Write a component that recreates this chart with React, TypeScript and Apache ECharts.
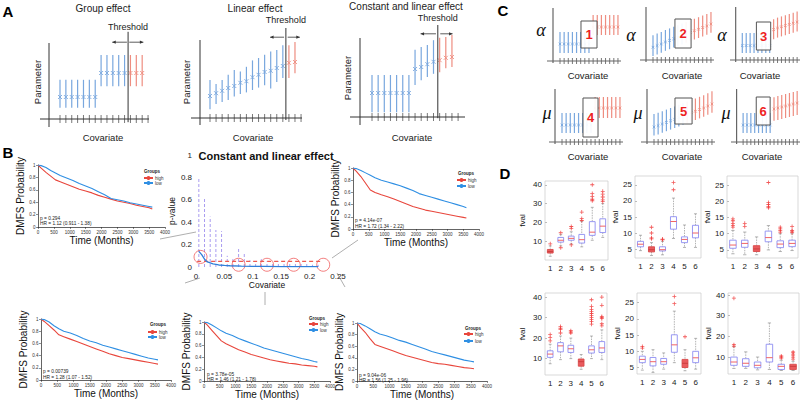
import React, { useEffect, useRef } from 'react';
import * as echarts from 'echarts';

const FONT = '"Liberation Sans", Arial, Helvetica, sans-serif';
const SERIF = '"Liberation Serif", "DejaVu Serif", serif';
const SBLUE = '#79a7de';
const SRED = '#ee8d80';
const KRED = '#e8463c';
const KBLUE = '#2f8fe3';
const INK = '#222222';

// ---------------- Panel A : schematic parameter estimates (arbitrary units) ----------------
const A1_CENTER = [2.75, 2.75, 2.75, 2.75, 2.75, 2.75, 2.75, 5.75, 5.75, 5.75, 5.75, 5.75, 5.75, 5.75, 5.75];
const A1_LOW = [1.4, 1.4, 1.4, 1.4, 1.4, 1.4, 1.4, 4.1, 4.1, 4.1, 4.1, 4.1, 4.1, 4.1, 4.1];
const A1_HIGH = [4.9, 4.9, 4.9, 4.9, 4.9, 4.9, 4.9, 8, 8, 8, 8, 8, 8, 8, 8];
const A1_BLUE_COUNT = 12;

const A2_CENTER = [2.75, 3.1, 3.4, 3.75, 4.0, 4.4, 4.6, 5.1, 5.4, 5.75, 5.9, 6.25, 6.5, 6.9, 7.0];
const A2_LOW = [1.1, 1.75, 2.0, 2.25, 2.7, 3.0, 3.2, 3.5, 3.8, 4.1, 3.7, 4.5, 5.0, 5.0, 5.6];
const A2_HIGH = [4.75, 4.25, 4.75, 5.4, 6.0, 5.8, 6.4, 7.2, 7.5, 7.9, 8.3, 8.5, 9.1, 9.1, 9.5];
const A2_BLUE_COUNT = 13;

const A3_CENTER = [3, 3, 3, 3, 3, 3, 3, 6.0, 6.25, 6.6, 6.9, 7.1, 7.4, 7.5];
const A3_LOW = [0.6, 0.6, 0.6, 0.6, 0.6, 0.6, 0.6, 4.0, 4.6, 5.0, 5.4, 5.6, 6.1, 6.25];
const A3_HIGH = [5.25, 5.25, 5.25, 5.25, 5.25, 5.25, 5.25, 8.4, 8.75, 9.0, 9.6, 9.9, 10.0, 10.25];
const A3_BLUE_COUNT = 11;

const A_TITLES = ['Group effect', 'Linear effect', 'Constant and linear effect'];

// ---------------- Panel C : schematic parameter estimates ----------------
const C1_CENTER = [4.25, 4.25, 4.25, 4.25, 4.25, 4.25, 4.25, 4.25, 8.5, 8.5, 8.5, 8.5, 8.5, 8.5, 8.5];
const C1_LOW = [2, 2, 2, 2, 2, 2, 2, 2, 6.5, 6.5, 6.5, 6.5, 6.5, 6.5, 6.5];
const C1_HIGH = [7.25, 7.25, 7.25, 7.25, 7.25, 7.25, 7.25, 7.25, 11.5, 11.5, 11.5, 11.5, 11.5, 11.5, 11.5];
const C2_CENTER = [3.2, 3.6, 4.0, 4.5, 4.9, 5.3, 5.7, 6.1, 6.5, 6.9, 7.3, 7.7, 8.1, 8.5, 9.0];
const C2_LOW = [1.0, 1.4, 1.8, 2.3, 2.7, 3.1, 3.5, 3.9, 4.3, 4.7, 5.1, 5.5, 5.9, 6.3, 6.8];
const C2_HIGH = [6.2, 6.6, 7.0, 7.5, 7.9, 8.3, 8.7, 9.1, 9.5, 9.9, 10.3, 10.7, 11.1, 11.5, 12.0];
const C3_CENTER = [3.6, 3.6, 3.6, 3.6, 3.6, 3.6, 3.6, 3.6, 7.6, 8.0, 8.3, 8.6, 8.9, 9.2, 9.5];
const C3_LOW = [1.75, 1.75, 1.75, 1.75, 1.75, 1.75, 1.75, 1.75, 5.2, 5.6, 5.9, 6.2, 6.5, 6.8, 7.1];
const C3_HIGH = [6.75, 6.75, 6.75, 6.75, 6.75, 6.75, 6.75, 6.75, 10.2, 10.6, 10.9, 11.2, 11.5, 11.8, 12.1];
const C4_CENTER = [4.25, 4.25, 4.25, 4.25, 4.25, 4.25, 4.25, 4.25, 8.5, 8.5, 8.5, 8.5, 8.5, 8.5, 8.5];
const C4_LOW = [2.25, 2.25, 2.25, 2.25, 2.25, 2.25, 2.25, 2.25, 6, 6, 6, 6, 6, 6, 6];
const C4_HIGH = [7.25, 7.25, 7.25, 7.25, 7.25, 7.25, 7.25, 7.25, 11.25, 11.25, 11.25, 11.25, 11.25, 11.25, 11.25];
const C5_CENTER = [3.75, 4.1, 4.5, 4.9, 5.3, 5.7, 6.1, 6.5, 6.9, 7.3, 7.7, 8.1, 8.5, 9.0, 9.5];
const C5_LOW = [1.6, 1.9, 2.3, 2.7, 3.1, 3.5, 3.9, 4.3, 4.7, 5.1, 5.5, 5.9, 6.3, 6.8, 7.3];
const C5_HIGH = [7.0, 7.3, 7.7, 8.1, 8.5, 8.9, 9.3, 9.7, 10.1, 10.5, 10.9, 11.3, 11.7, 12.2, 12.7];
const C6_CENTER = [4.25, 4.25, 4.25, 4.25, 4.25, 4.25, 4.25, 4.25, 8.25, 8.5, 8.75, 9.0, 9.25, 9.5, 9.75];
const C6_LOW = [2.25, 2.25, 2.25, 2.25, 2.25, 2.25, 2.25, 2.25, 5.3, 5.5, 5.75, 6.0, 6.25, 6.5, 6.75];
const C6_HIGH = [7.25, 7.25, 7.25, 7.25, 7.25, 7.25, 7.25, 7.25, 11.2, 11.5, 11.75, 12.0, 12.25, 12.5, 12.75];
const C_BLUE_COUNT = 8;
const C_BOX_LABELS = ['1', '2', '3', '4', '5', '6'];
const C_SYMBOLS = ['α', 'α', 'α', 'μ', 'μ', 'μ'];

// ---------------- Panel B : Kaplan-Meier curves ----------------
const KM_TIME = [0, 100, 250, 400, 550, 700, 900, 1100, 1300, 1500, 1700, 1900, 2100, 2300, 2500, 2700, 2900, 3100, 3300, 3500, 3600];
const B1_HIGH = [1, 0.95, 0.88, 0.82, 0.76, 0.73, 0.69, 0.65, 0.61, 0.58, 0.55, 0.51, 0.48, 0.45, 0.42, 0.4, 0.38, 0.35, 0.33, 0.31, 0.29];
const B1_LOW = [1, 0.99, 0.96, 0.91, 0.87, 0.83, 0.79, 0.75, 0.7, 0.66, 0.62, 0.57, 0.52, 0.46, 0.44, 0.42, 0.39, 0.37, 0.35, 0.33, 0.32];
const B2_HIGH = [1, 0.95, 0.86, 0.75, 0.64, 0.6, 0.56, 0.53, 0.49, 0.45, 0.41, 0.37, 0.34, 0.31, 0.29, 0.27, 0.25, 0.23, 0.21, 0.19, 0.18];
const B2_LOW = [1, 0.99, 0.96, 0.92, 0.88, 0.84, 0.8, 0.77, 0.74, 0.71, 0.67, 0.63, 0.58, 0.55, 0.52, 0.49, 0.46, 0.43, 0.4, 0.37, 0.35];
const B4_HIGH = [1, 0.96, 0.89, 0.82, 0.74, 0.71, 0.67, 0.63, 0.59, 0.55, 0.51, 0.47, 0.43, 0.4, 0.37, 0.35, 0.33, 0.31, 0.29, 0.27, 0.26];
const B4_LOW = [1, 0.99, 0.95, 0.89, 0.84, 0.8, 0.77, 0.73, 0.68, 0.64, 0.61, 0.57, 0.54, 0.51, 0.48, 0.45, 0.42, 0.39, 0.36, 0.34, 0.33];
const B5_HIGH = [1, 0.95, 0.86, 0.77, 0.68, 0.63, 0.58, 0.53, 0.49, 0.45, 0.42, 0.39, 0.36, 0.34, 0.32, 0.3, 0.29, 0.27, 0.26, 0.25, 0.24];
const B5_LOW = [1, 0.99, 0.95, 0.9, 0.85, 0.81, 0.77, 0.72, 0.68, 0.64, 0.6, 0.56, 0.53, 0.5, 0.47, 0.44, 0.41, 0.38, 0.36, 0.33, 0.32];
const B6_HIGH = [1, 0.93, 0.84, 0.73, 0.63, 0.6, 0.56, 0.52, 0.48, 0.44, 0.41, 0.38, 0.35, 0.32, 0.3, 0.29, 0.27, 0.25, 0.23, 0.22, 0.21];
const B6_LOW = [1, 0.99, 0.95, 0.9, 0.85, 0.81, 0.78, 0.74, 0.7, 0.67, 0.63, 0.59, 0.55, 0.51, 0.48, 0.45, 0.42, 0.39, 0.36, 0.34, 0.33];
const B_PVALUES = ['p = 0.294', 'p = 4.14e-07', 'p = 0.00739', 'p = 3.78e-05', 'p = 9.04e-06'];
const B_HR = ['HR = 1.12 (0.911 - 1.38)', 'HR = 1.72 (1.34 - 2.22)', 'HR = 1.28 (1.07 - 1.52)', 'HR = 1.46 (1.21 - 1.78)', 'HR = 1.56 (1.25 - 1.96)'];
const KM_GROUPS = ['high', 'low'];

// p-value vs covariate
const PV_BAR_X = [0.005, 0.015, 0.025, 0.035, 0.045, 0.055, 0.065, 0.075, 0.085, 0.095, 0.105, 0.115, 0.125, 0.135, 0.145, 0.155, 0.165, 0.175, 0.185, 0.195, 0.205, 0.215];
const PV_BAR_H = [0.8, 0.62, 0.45, 0.33, 0.32, 0.1, 0.08, 0.17, 0.12, 0.06, 0.05, 0.07, 0.05, 0.04, 0.05, 0.04, 0.03, 0.04, 0.03, 0.03, 0.02, 0.02];
const PV_LINE_X = [0.005, 0.01, 0.015, 0.02, 0.03, 0.04, 0.05, 0.06, 0.08, 0.1, 0.12, 0.15, 0.18, 0.215];
const PV_LINE_Y = [0.14, 0.11, 0.07, 0.045, 0.028, 0.018, 0.014, 0.011, 0.008, 0.006, 0.005, 0.004, 0.003, 0.003];
const PV_CUTOFF = 0.05;
const PV_CUTOFF_X = [0.002, 0.222];
const PV_CIRCLE_X = [0.008, 0.075, 0.125, 0.172, 0.224];
const PV_CIRCLE_Y = [0.09, 0.02, 0.02, 0.02, 0.02];
const PV_Y_TICKS = [0, 0.2, 0.4, 0.6, 0.8, 1];
const PV_X_TICKS = [0, 0.05, 0.1, 0.15, 0.2, 0.25];

// ---------------- Panel D : box plots of fval ----------------
const D_CATS = ['1', '2', '3', '4', '5', '6'];
const D_TICKS_40 = [10, 20, 30, 40];
const D_TICKS_25 = [5, 10, 15, 20, 25];
// [low whisker, q1, median, q3, high whisker]
const D1_BOX = [[2, 3.7, 4.5, 5.6, 7.5], [7.5, 9.5, 10.5, 12, 13.5], [8.5, 10.5, 11.5, 12.7, 15], [7, 9, 10.8, 13.6, 20.5], [10.5, 13.1, 14.8, 20.4, 28], [12, 14.6, 18, 21.9, 30]];
const D1_OUT = [[8.6], [14.5, 6.5], [17.8, 16.8, 8], [25.5, 22, 21], [40, 35.3, 33.8, 32.3, 31.5], [36.5, 35, 33.5, 32, 31]];
const D2_BOX = [[4.5, 5.7, 6.5, 7.4, 9.3], [3, 4.1, 4.8, 5.7, 7], [3.2, 4.4, 4.8, 5.7, 7.4], [8.3, 11.2, 13.6, 15.1, 20.9], [5.5, 7, 8, 8.8, 12.5], [5.5, 8.5, 10, 12.4, 16]];
const D2_OUT = [[], [11.8, 10, 8.5, 8.2], [8.1, 7.9], [25.8, 23.5], [], []];
const D3_BOX = [[3.8, 5.5, 6.5, 8, 11], [3.5, 5.8, 7, 8, 10.5], [3.5, 4.5, 5.3, 6.3, 9], [5, 7.5, 8.8, 10.8, 12.5], [4.5, 5.7, 6.8, 7.8, 10], [4.8, 6, 7, 8, 10]];
const D3_OUT = [[14.6, 14, 13.2, 12.5, 12], [13.2, 12.2], [], [25.8, 19.6, 19, 18.4, 18], [12, 11.5, 11, 10.5], [12.2, 11, 10.8, 10.3]];
const D4_BOX = [[7.5, 10.6, 12.2, 13.8, 17], [9.5, 13.3, 16.2, 17.8, 21], [10, 13, 14.8, 16.5, 20], [4.8, 6.3, 8.5, 9.8, 12], [10, 12.7, 14.3, 16.2, 21], [9.5, 13, 15.2, 18.3, 24]];
const D4_OUT = [[21.7, 20.2, 18.6], [25.7, 24.8, 24.1, 22.5], [23.6, 23, 22.5], [], [38.7, 35.5, 34, 33, 32, 31, 30, 29, 28, 26.8], [40, 36, 30.5, 30, 29.5, 27, 26]];
const D5_BOX = [[4.2, 6.5, 7.5, 8.5, 10], [3.5, 5.5, 6.8, 8.1, 10.5], [4.5, 6, 6.8, 7.8, 9.5], [6.5, 9.7, 12, 15.1, 22.4], [4, 5, 6.3, 7.5, 10.5], [4.5, 6.5, 8, 10, 14]];
const D5_OUT = [[11.5, 11], [], [], [26.9, 24.7], [14.5], []];
const D6_BOX = [[4.5, 6, 7.6, 10, 15], [4.5, 5.5, 7, 9.2, 12.5], [3.8, 4.8, 6, 7.6, 10], [4, 7.6, 9.7, 16.2, 26.5], [3.5, 4, 5.5, 6.5, 8.5], [3.5, 4, 5.5, 6.5, 8]];
const D6_OUT = [[38.5, 16, 15.3], [], [], [], [10.5, 10, 9.5], [12.5, 12, 11, 10, 9]];

// ---------------- layout (pixels) ----------------
const A_LAYOUT = [
  { axX: 49, axY: 119, left: 40, right: 149, top: 43, bottom: 127, first: 60, step: 5.87, unit: 8, ticks: 16, tick: 4, lw: 1, s: 2 },
  { axX: 200, axY: 118, left: 191, right: 302, top: 40, bottom: 125, first: 210, step: 6.07, unit: 8, ticks: 16, tick: 4, lw: 1, s: 2 },
  { axX: 360, axY: 117, left: 350, right: 465, top: 38, bottom: 125, first: 372, step: 6.15, unit: 8, ticks: 15, tick: 4, lw: 1, s: 2 },
];
const A_THR = [
  { x: 12.6, y0: -0.4, y1: 10.9, ay: 9.6, l: [12.4, 9.9], r: [12.8, 15.2], ly: 11.5 },
  { x: 13.5, y0: -0.25, y1: 11.25, ay: 10.1, l: [13.2, 10.9], r: [13.8, 15.8], ly: 12.25 },
  { x: 11.7, y0: -0.15, y1: 11.5, ay: 10.4, l: [11.4, 8.9], r: [12.1, 14.1], ly: 12.4 },
];
const C_AXES = [[553, 61], [646, 60], [736, 60], [555, 142], [647, 142], [737, 142]];
const C_BOXES = [[6.07, 9.94, 3.25, 10], [6.3, 10.2, 3, 10.25], [4.6, 8.25, 2.5, 9.5], [6.07, 9.7, 1.25, 11], [6.07, 10.2, 4.5, 11], [4.4, 8, 4.25, 11.25]];

const plain = (v: number) => String(v);

function App() {
  const ref = useRef<HTMLDivElement>(null);
  useEffect(() => {
    if (!ref.current) return;
    const chart = echarts.init(ref.current, undefined, { renderer: 'svg' });
    const grid: any[] = [];
    const xAxis: any[] = [];
    const yAxis: any[] = [];
    const series: any[] = [];
    const legend: any[] = [];
    const graphic: any[] = [];

    const txt = (text: string, x: number, y: number, size: number, extra: any = {}) => {
      const { rotation, ...style } = extra;
      graphic.push({
        type: 'text', x, y, rotation: rotation || 0, silent: true,
        style: { text, fontSize: size, fontFamily: FONT, fill: INK, align: 'center', verticalAlign: 'middle', ...style },
      });
    };
    const seg = (x1: number, y1: number, x2: number, y2: number) => {
      graphic.push({ type: 'line', silent: true, shape: { x1, y1, x2, y2 }, style: { stroke: '#9a9a9a', lineWidth: 0.8 } });
    };

    // ---- schematic helper ----
    const addSchematic = (L: any, center: number[], low: number[], high: number[], nBlue: number, thr: any, box: any, boxLabel: string | null, axisColor: string) => {
      const gi = grid.length;
      const xMin = 1 - (L.first - L.left) / L.step;
      const xMax = 1 + (L.right - L.first) / L.step;
      const vX = 1 - (L.first - L.axX) / L.step;
      const yMin = -(L.bottom - L.axY) / L.unit;
      const yMax = (L.axY - L.top) / L.unit;
      grid.push({ left: L.left, top: L.top, width: L.right - L.left, height: L.bottom - L.top });
      xAxis.push({ type: 'value', gridIndex: gi, min: xMin, max: xMax, show: false });
      yAxis.push({ type: 'value', gridIndex: gi, min: yMin, max: yMax, show: false });
      const s = L.s;
      series.push({
        type: 'custom', xAxisIndex: gi, yAxisIndex: gi, silent: true,
        data: center.map((c, i) => [i + 1, c, low[i], high[i], i >= nBlue ? 1 : 0]),
        renderItem: (_p: any, api: any) => {
          const x = api.value(0);
          const a = api.coord([x, api.value(2)]);
          const b = api.coord([x, api.value(3)]);
          const m = api.coord([x, api.value(1)]);
          const col = api.value(4) ? SRED : SBLUE;
          return {
            type: 'group', children: [
              { type: 'line', shape: { x1: a[0], y1: a[1], x2: b[0], y2: b[1] }, style: { stroke: col, lineWidth: 1.2 } },
              { type: 'line', shape: { x1: m[0] - s, y1: m[1] - s, x2: m[0] + s, y2: m[1] + s }, style: { stroke: col, lineWidth: 0.9 } },
              { type: 'line', shape: { x1: m[0] - s, y1: m[1] + s, x2: m[0] + s, y2: m[1] - s }, style: { stroke: col, lineWidth: 0.9 } },
            ],
          };
        },
      });
      series.push({
        type: 'custom', xAxisIndex: gi, yAxisIndex: gi, silent: true, data: [[0, 0]],
        renderItem: (_p: any, api: any) => {
          const P = (x: number, y: number) => api.coord([x, y]);
          const ch: any[] = [];
          const ln = (p: number[], q: number[], stroke: string, w: number) => ch.push({ type: 'line', shape: { x1: p[0], y1: p[1], x2: q[0], y2: q[1] }, style: { stroke, lineWidth: w } });
          for (let i = 1; i <= L.ticks; i++) {
            const q = P(i, 0);
            ln([q[0], q[1] - L.tick], [q[0], q[1] + L.tick], '#555', 0.8);
          }
          ln(P(vX, yMin), P(vX, yMax), axisColor, L.lw);
          ln(P(xMin, 0), P(xMax, 0), axisColor, L.lw);
          if (thr) {
            ln(P(thr.x, thr.y0), P(thr.x, thr.y1), '#333', 1);
            const arrow = (from: number, to: number) => {
              const a = P(from, thr.ay), b = P(to, thr.ay);
              ln(a, b, '#333', 0.8);
              const d = b[0] > a[0] ? 1 : -1;
              ch.push({ type: 'polygon', shape: { points: [[b[0], b[1]], [b[0] - d * 3.5, b[1] - 1.6], [b[0] - d * 3.5, b[1] + 1.6]] }, style: { fill: '#333' } });
            };
            arrow(thr.l[0], thr.l[1]);
            arrow(thr.r[0], thr.r[1]);
            const t = P(thr.x, thr.ly);
            ch.push({ type: 'text', x: t[0], y: t[1], style: { text: 'Threshold', fontSize: 9, fontFamily: FONT, fill: INK, align: 'center', verticalAlign: 'middle' } });
          }
          if (box) {
            const p0 = P(box[0], box[3]), p1 = P(box[1], box[2]);
            ch.push({ type: 'rect', shape: { x: p0[0], y: p0[1], width: p1[0] - p0[0], height: p1[1] - p0[1] }, style: { fill: 'rgba(255,255,255,0.92)', stroke: '#555', lineWidth: 1 } });
            ch.push({ type: 'text', x: (p0[0] + p1[0]) / 2, y: (p0[1] + p1[1]) / 2, style: { text: boxLabel, fontSize: 13, fontWeight: 'bold', fontFamily: FONT, fill: '#ee1f1f', align: 'center', verticalAlign: 'middle' } });
          }
          return { type: 'group', children: ch };
        },
      });
    };

    // ---- Panel A ----
    addSchematic(A_LAYOUT[0], A1_CENTER, A1_LOW, A1_HIGH, A1_BLUE_COUNT, A_THR[0], null, null, '#333');
    addSchematic(A_LAYOUT[1], A2_CENTER, A2_LOW, A2_HIGH, A2_BLUE_COUNT, A_THR[1], null, null, '#333');
    addSchematic(A_LAYOUT[2], A3_CENTER, A3_LOW, A3_HIGH, A3_BLUE_COUNT, A_THR[2], null, null, '#333');
    txt(A_TITLES[0], 103, 8, 10);
    txt(A_TITLES[1], 255, 8, 10);
    txt(A_TITLES[2], 406, 6, 10);
    [[37, 82], [186, 82], [347, 78]].forEach(([x, y]) => txt('Parameter', x, y, 9.5, { rotation: Math.PI / 2 }));
    [[103, 137], [253, 137], [412, 137]].forEach(([x, y]) => txt('Covariate', x, y, 9.5));

    // ---- Panel C ----
    const cData = [
      [C1_CENTER, C1_LOW, C1_HIGH], [C2_CENTER, C2_LOW, C2_HIGH], [C3_CENTER, C3_LOW, C3_HIGH],
      [C4_CENTER, C4_LOW, C4_HIGH], [C5_CENTER, C5_LOW, C5_HIGH], [C6_CENTER, C6_LOW, C6_HIGH],
    ];
    cData.forEach((d, k) => {
      const [ax, ay] = C_AXES[k];
      const L = { axX: ax, axY: ay, left: ax - 6, right: ax + 68, top: ay - 53, bottom: ay + 2, first: ax + 7, step: 4.14, unit: 4, ticks: 15, tick: 3, lw: 1.2, s: 1.3 };
      addSchematic(L, d[0], d[1], d[2], C_BLUE_COUNT, null, C_BOXES[k], C_BOX_LABELS[k], '#666');
    });
    [[541, 30], [631, 35], [722, 35], [547, 113], [638, 113], [726, 113]].forEach(([x, y], k) =>
      txt(C_SYMBOLS[k], x, y, 18, { fontFamily: SERIF, fontStyle: 'italic', fill: '#111' }));
    [[588, 75], [682, 75], [760, 75], [588, 156], [682, 156], [762, 156]].forEach(([x, y]) => txt('Covariate', x, y, 9.5));

    // ---- Panel B: KM plots ----
    const KM_LAYOUT = [
      { l: 38, t: 165, w: 127, h: 62, leg: [143, 175.5, 0], grp: [152, 171], tx: [40, 218, 223] },
      { l: 353, t: 168, w: 126, h: 61, leg: [456, 177.5, 1], grp: [466, 173], tx: [355, 220, 226] },
      { l: 41, t: 319, w: 130, h: 61, leg: [147, 329.5, 0], grp: [158, 324], tx: [43, 371, 377] },
      { l: 204, t: 322, w: 126, h: 59, leg: [308, 321.5, 1], grp: [317, 318], tx: [207, 374, 379] },
      { l: 357, t: 323, w: 130, h: 58, leg: [463, 331.5, 2], grp: [473, 328], tx: [359, 375, 380] },
    ];
    const kmData = [[B1_HIGH, B1_LOW], [B2_HIGH, B2_LOW], [B4_HIGH, B4_LOW], [B5_HIGH, B5_LOW], [B6_HIGH, B6_LOW]];
    const axLine = { show: true, onZero: false, lineStyle: { color: '#222', width: 0.7 } };
    const axTick = { show: true, length: 2, lineStyle: { color: '#222', width: 0.5 } };
    kmData.forEach((d, k) => {
      const L = KM_LAYOUT[k];
      const gi = grid.length;
      grid.push({ left: L.l, top: L.t, width: L.w, height: L.h });
      xAxis.push({
        type: 'value', gridIndex: gi, min: 0, max: 4000, interval: 500,
        name: 'Time (Months)', nameLocation: 'middle', nameGap: 8,
        nameTextStyle: { fontSize: 10, color: '#111', fontFamily: FONT },
        axisLine: axLine, axisTick: axTick, splitLine: { show: false },
        axisLabel: { fontSize: 4.5, color: '#333', margin: 2.5, fontFamily: FONT, formatter: plain },
      });
      yAxis.push({
        type: 'value', gridIndex: gi, min: 0, max: 1, interval: 0.2,
        name: 'DMFS Probability', nameLocation: 'middle', nameGap: 9,
        nameTextStyle: { fontSize: 10, color: '#111', fontFamily: FONT },
        axisLine: axLine, axisTick: axTick, splitLine: { show: false },
        axisLabel: { fontSize: 4.5, color: '#333', margin: 2.5, fontFamily: FONT, formatter: plain },
      });
      series.push({
        type: 'line', name: KM_GROUPS[0], xAxisIndex: gi, yAxisIndex: gi, symbol: 'none',
        data: KM_TIME.map((t, i) => [t, d[0][i]]), lineStyle: { color: KRED, width: 1.1 }, itemStyle: { color: KRED },
      });
      series.push({
        type: 'line', name: KM_GROUPS[1], xAxisIndex: gi, yAxisIndex: gi, symbol: 'none',
        data: KM_TIME.map((t, i) => [t, d[1][i]]), lineStyle: { color: KBLUE, width: 1.1 }, itemStyle: { color: KBLUE },
      });
      legend.push({
        data: KM_GROUPS, orient: 'vertical', left: L.leg[0], top: L.leg[1], itemGap: L.leg[2],
        itemWidth: 9, itemHeight: 5, padding: 0, selectedMode: false,
        textStyle: { fontSize: 4.5, color: '#333', fontFamily: FONT, padding: [0, 0, 0, -3] },
      });
      txt('Groups', L.grp[0], L.grp[1], 4.5, { fontWeight: 'bold' });
      txt(B_PVALUES[k], L.tx[0], L.tx[1], 4.8, { align: 'left' });
      txt(B_HR[k], L.tx[0], L.tx[2], 4.8, { align: 'left' });
    });

    // ---- Panel B: p-value vs covariate ----
    const pvGrid = grid.length;
    grid.push({ left: 196, top: 155, width: 142, height: 112 });
    xAxis.push({
      type: 'value', gridIndex: pvGrid, min: 0, max: 0.25,
      name: 'Covariate', nameLocation: 'middle', nameGap: 13,
      nameTextStyle: { fontSize: 8.5, color: '#111', fontFamily: FONT },
      axisLine: { show: false }, axisTick: { show: false }, splitLine: { show: false },
      axisLabel: { fontSize: 8, color: '#222', margin: 5, fontFamily: FONT, customValues: PV_X_TICKS, formatter: plain },
    });
    yAxis.push({
      type: 'value', gridIndex: pvGrid, min: 0, max: 1,
      name: 'p-value', nameLocation: 'middle', nameGap: 18,
      nameTextStyle: { fontSize: 8.5, color: '#111', fontFamily: FONT },
      axisLine: { show: false }, axisTick: { show: false }, splitLine: { show: false },
      axisLabel: { fontSize: 8, color: '#222', margin: 4, fontFamily: FONT, customValues: PV_Y_TICKS, formatter: plain },
    });
    series.push({
      type: 'custom', xAxisIndex: pvGrid, yAxisIndex: pvGrid, silent: true,
      data: PV_BAR_X.map((x, i) => [x, PV_BAR_H[i]]),
      renderItem: (_p: any, api: any) => {
        const a = api.coord([api.value(0), 0]);
        const b = api.coord([api.value(0), api.value(1)]);
        return { type: 'line', shape: { x1: a[0], y1: a[1], x2: b[0], y2: b[1] }, style: { stroke: '#a99cf0', lineWidth: 1, lineDash: [3, 2] } };
      },
    });
    series.push({
      type: 'line', xAxisIndex: pvGrid, yAxisIndex: pvGrid, symbol: 'none', silent: true,
      data: PV_CUTOFF_X.map((x) => [x, PV_CUTOFF]), lineStyle: { color: '#ee5a50', width: 1.3, type: [4, 3] },
    });
    series.push({
      type: 'line', xAxisIndex: pvGrid, yAxisIndex: pvGrid, symbol: 'none', silent: true,
      data: PV_LINE_X.map((x, i) => [x, PV_LINE_Y[i]]), lineStyle: { color: '#2f7fd8', width: 1.3 },
    });
    series.push({
      type: 'scatter', xAxisIndex: pvGrid, yAxisIndex: pvGrid, silent: true, symbolSize: 13,
      data: PV_CIRCLE_X.map((x, i) => [x, PV_CIRCLE_Y[i]]),
      itemStyle: { color: 'rgba(0,0,0,0)', borderColor: '#ee4b4b', borderWidth: 0.9 },
    });
    txt('Constant and linear effect', 266, 156, 11, { fontWeight: 'bold', fill: '#111' });
    seg(160, 239, 196, 232);
    seg(185, 283, 200, 278);
    seg(332, 258, 358, 240);
    seg(337, 273, 345, 287);
    seg(265, 292, 265, 305);

    // ---- Panel D: box plots ----
    const D_LAYOUT = [
      { l: 545, t: 181, w: 63, h: 79, min: 0, max: 42, ticks: D_TICKS_40, gap: 11, red: 0 },
      { l: 635, t: 176, w: 66, h: 82, min: 2.2, max: 27.8, ticks: D_TICKS_25, gap: 8, red: 1 },
      { l: 727, t: 176, w: 71, h: 82, min: 2.5, max: 27.8, ticks: D_TICKS_25, gap: 8, red: 2 },
      { l: 545, t: 293, w: 62, h: 82, min: 2, max: 42, ticks: D_TICKS_40, gap: 11, red: 3 },
      { l: 637, t: 293, w: 64, h: 81, min: 3, max: 28, ticks: D_TICKS_25, gap: 8, red: 4 },
      { l: 728, t: 293, w: 71, h: 81, min: 1.8, max: 41, ticks: D_TICKS_40, gap: 8, red: 5 },
    ];
    const dData = [[D1_BOX, D1_OUT], [D2_BOX, D2_OUT], [D3_BOX, D3_OUT], [D4_BOX, D4_OUT], [D5_BOX, D5_OUT], [D6_BOX, D6_OUT]];
    dData.forEach((d, k) => {
      const L = D_LAYOUT[k];
      const gi = grid.length;
      grid.push({ left: L.l, top: L.t, width: L.w, height: L.h, show: true, borderColor: '#cfcfcf', borderWidth: 0.8, backgroundColor: 'rgba(0,0,0,0)' });
      xAxis.push({
        type: 'category', gridIndex: gi, data: D_CATS,
        axisLine: { show: false }, axisTick: { show: false },
        axisLabel: { fontSize: 8, color: '#222', margin: 4, interval: 0, fontFamily: FONT },
      });
      yAxis.push({
        type: 'value', gridIndex: gi, min: L.min, max: L.max,
        name: 'fval', nameLocation: 'middle', nameGap: L.gap + 8,
        nameTextStyle: { fontSize: 8, color: '#111', fontFamily: FONT },
        axisLine: { show: false }, splitLine: { show: false },
        axisTick: { show: true, inside: true, length: 2, customValues: L.ticks, lineStyle: { color: '#bbb' } },
        axisLabel: { fontSize: 8, color: '#222', margin: 3, customValues: L.ticks, fontFamily: FONT },
      });
      series.push({
        type: 'custom', xAxisIndex: gi, yAxisIndex: gi, silent: true,
        data: d[0].map((b: number[], i: number) => [i, b[0], b[1], b[2], b[3], b[4], i === L.red ? 1 : 0]),
        renderItem: (_p: any, api: any) => {
          const x = api.value(0);
          const w = api.size([1, 0])[0] * 0.55;
          const P = (v: number) => api.coord([x, v]);
          const lo = P(api.value(1)), q1 = P(api.value(2)), md = P(api.value(3)), q3 = P(api.value(4)), hi = P(api.value(5));
          const red = api.value(6);
          const cx = md[0];
          const wh = { stroke: '#a0a0a0', lineWidth: 0.8, lineDash: [1.5, 1] };
          const cap = { stroke: '#a0a0a0', lineWidth: 0.8 };
          return {
            type: 'group', children: [
              { type: 'line', shape: { x1: cx, y1: hi[1], x2: cx, y2: q3[1] }, style: wh },
              { type: 'line', shape: { x1: cx, y1: q1[1], x2: cx, y2: lo[1] }, style: wh },
              { type: 'line', shape: { x1: cx - w / 4, y1: hi[1], x2: cx + w / 4, y2: hi[1] }, style: cap },
              { type: 'line', shape: { x1: cx - w / 4, y1: lo[1], x2: cx + w / 4, y2: lo[1] }, style: cap },
              {
                type: 'rect', shape: { x: cx - w / 2, y: q3[1], width: w, height: q1[1] - q3[1] },
                style: red ? { fill: '#ea5b5e', stroke: '#d84a4a', lineWidth: 0.9 } : { fill: 'none', stroke: '#8d8df2', lineWidth: 0.9 },
              },
              { type: 'line', shape: { x1: cx - w / 2, y1: md[1], x2: cx + w / 2, y2: md[1] }, style: { stroke: red ? '#c83c3c' : '#f05252', lineWidth: 0.9 } },
            ],
          };
        },
      });
      const outs: number[][] = [];
      d[1].forEach((vals: number[], i: number) => vals.forEach((v) => outs.push([i, v])));
      series.push({
        type: 'scatter', xAxisIndex: gi, yAxisIndex: gi, silent: true, data: outs,
        symbol: 'path://M2,0H3V2H5V3H3V5H2V3H0V2H2Z', symbolSize: 4, itemStyle: { color: '#ef3030' },
      });
    });

    // ---- panel letters ----
    txt('A', 8, 11, 15, { fontWeight: 'bold', fill: '#000' });
    txt('B', 8, 152, 15, { fontWeight: 'bold', fill: '#000' });
    txt('C', 503, 10, 15, { fontWeight: 'bold', fill: '#000' });
    txt('D', 505, 173, 15, { fontWeight: 'bold', fill: '#000' });

    chart.setOption({
      animation: false,
      backgroundColor: '#ffffff',
      textStyle: { fontFamily: FONT },
      grid, xAxis, yAxis, series, legend, graphic,
    });
    return () => chart.dispose();
  }, []);
  return <div ref={ref} style={{ position: 'absolute', left: 0, top: 0, width: 800, height: 406, background: '#fff' }} />;
}

export default App;
